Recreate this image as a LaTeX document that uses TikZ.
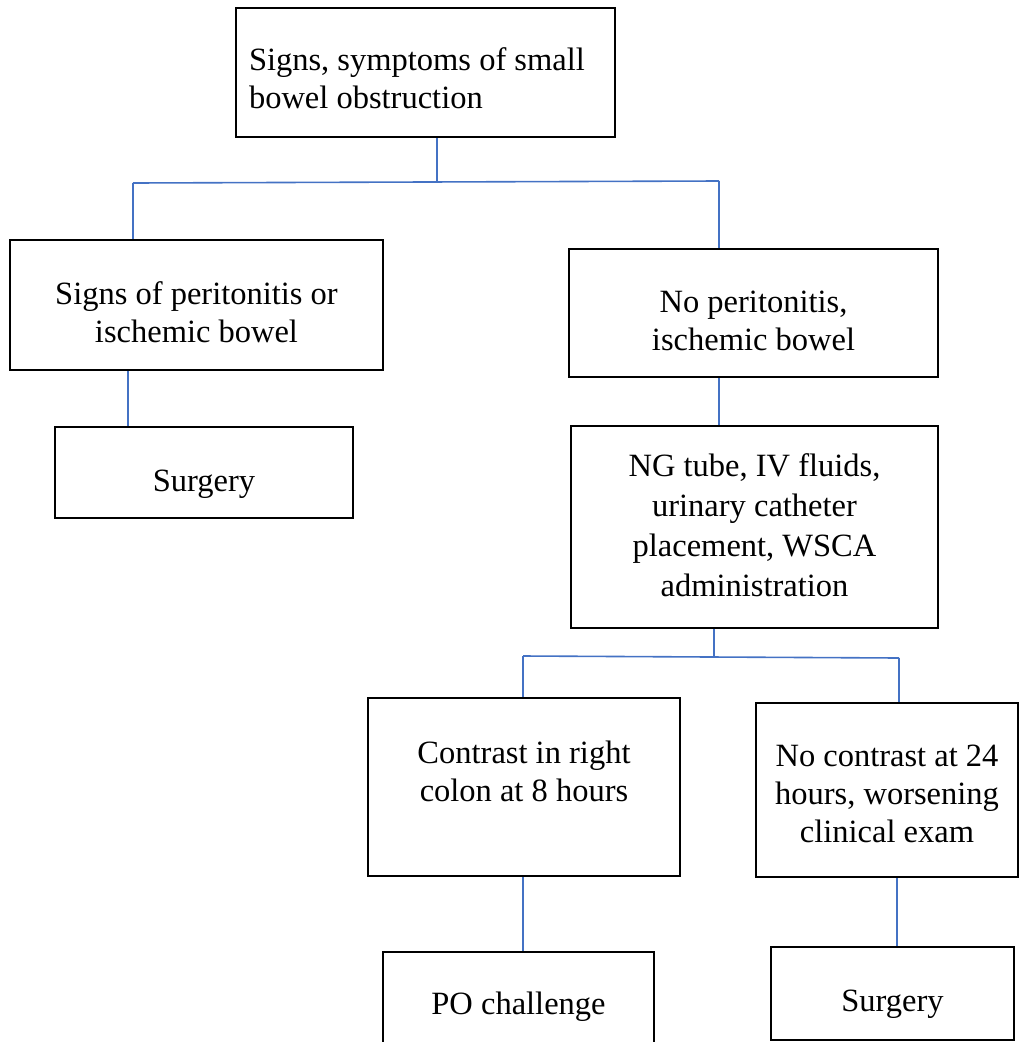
\documentclass[tikz,border=0pt]{standalone}
\usepackage{fontspec}
\setmainfont{Liberation Serif}
\usetikzlibrary{calc}
\definecolor{linkblue}{RGB}{68,114,196}
% text block of a box, lowered by #2 (negative = down), lines in a tabular
\newcommand{\boxlines}[3][c]{\raisebox{#2}[0pt][0pt]{\begin{tabular}[b]{@{}#1@{}}#3\end{tabular}}}

\begin{document}
\begin{tikzpicture}[
        %We work in page pixels, y runs downwards
        x=1pt, y=-1pt,
        box/.style={draw=black, line width=2pt, inner sep=0pt,
            font=\fontsize{32.5}{38}\selectfont},
        link/.style={draw=linkblue, line width=1.6pt}
     ]
    \useasboundingbox (0,0) rectangle (1026,1042);
    % Boxes of the decision tree
    \node[box, minimum width=379pt, minimum height=129pt] (symptoms) at (425.5,72.5)
        {\boxlines[p{353pt}]{-36pt}{Signs, symptoms of small\\bowel obstruction}};
    \node[box, minimum width=373pt, minimum height=130pt] (peritonitis) at (196.5,305)
        {\boxlines{-37.5pt}{Signs of peritonitis or\\ischemic bowel}};
    \node[box, minimum width=298pt, minimum height=91pt] (surgeryleft) at (204,472.5)
        {\boxlines{-18.5pt}{Surgery}};
    \node[box, minimum width=369pt, minimum height=128pt] (noperitonitis) at (753.5,313)
        {\boxlines{-37.5pt}{No peritonitis,\\ischemic bowel}};
    \node[box, minimum width=367pt, minimum height=202pt, font=\fontsize{32.5}{40}\selectfont]
        (treatment) at (754.5,527)
        {\boxlines{-69pt}{NG tube, IV fluids,\\urinary catheter\\placement, WSCA\\administration}};
    \node[box, minimum width=312pt, minimum height=178pt] (contrast) at (524,787)
        {\boxlines{-14pt}{Contrast in right\\colon at 8 hours}};
    \node[box, minimum width=262pt, minimum height=174pt] (nocontrast) at (887,790)
        {\boxlines{-52.5pt}{No contrast at 24\\hours, worsening\\clinical exam}};
    \node[box, minimum width=271pt, minimum height=110pt] (pochallenge) at (518.5,1007)
        {\boxlines{-7pt}{PO challenge}};
    \node[box, minimum width=243pt, minimum height=93pt] (surgeryright) at (892.5,993.5)
        {\boxlines{-17.5pt}{Surgery}};

    % Split points of the connectors
    \coordinate (splitA) at (437,182);
    \coordinate (splitAleft) at (133,183);
    \coordinate (splitAright) at (719,181);
    \coordinate (dropB) at (128,0);
    \coordinate (splitE) at (714,656);
    \coordinate (splitEleft) at (523,656);
    \coordinate (splitEright) at (899,658);
    \coordinate (dropG) at (897,0);

    % Connectors
    \draw[link] (symptoms.south -| splitA) -- (splitA);
    \draw[link] (splitAleft) -- (splitAright);
    \draw[link] (splitAleft) -- (splitAleft |- peritonitis.north);
    \draw[link] (splitAright) -- (splitAright |- noperitonitis.north);
    \draw[link] (peritonitis.south -| dropB) -- (surgeryleft.north -| dropB);
    \draw[link] (noperitonitis.south -| splitAright) -- (treatment.north -| splitAright);
    \draw[link] (treatment.south -| splitE) -- (splitE);
    \draw[link] (splitEleft) -- (splitEright);
    \draw[link] (splitEleft) -- (splitEleft |- contrast.north);
    \draw[link] (splitEright) -- (splitEright |- nocontrast.north);
    \draw[link] (contrast.south -| splitEleft) -- (pochallenge.north -| splitEleft);
    \draw[link] (nocontrast.south -| dropG) -- (surgeryright.north -| dropG);
\end{tikzpicture}
\end{document}
